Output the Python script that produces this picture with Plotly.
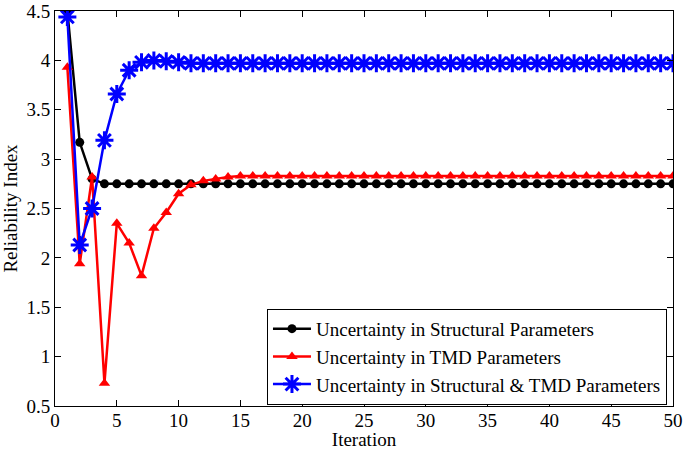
import plotly.graph_objects as go

iterations = list(range(1, 51))
structural = [4.50, 3.17, 2.80] + [2.75] * 47
tmd = [3.93, 1.94, 2.82, 0.73, 2.35, 2.15, 1.82, 2.30, 2.46, 2.65, 2.74, 2.78, 2.80, 2.82] + [2.83] * 36
combined = [4.44, 2.13, 2.50, 3.19, 3.66, 3.90, 3.98, 4.00, 3.99, 3.98] + [3.97] * 40

x_ticks = list(range(0, 51, 5))
y_ticks = [0.5, 1, 1.5, 2, 2.5, 3, 3.5, 4, 4.5]

font = dict(family="Liberation Serif, Times New Roman, serif", size=19, color="black")

fig = go.Figure()
fig.add_trace(go.Scatter(x=iterations, y=structural, mode="lines+markers",
                         name="Uncertainty in Structural Parameters",
                         line=dict(color="black", width=2.5),
                         marker=dict(symbol="circle", size=9, color="black")))
fig.add_trace(go.Scatter(x=iterations, y=tmd, mode="lines+markers",
                         name="Uncertainty in TMD Parameters",
                         line=dict(color="red", width=2.5),
                         marker=dict(symbol="triangle-up", size=10, color="red")))
fig.add_trace(go.Scatter(x=iterations, y=combined, mode="lines+markers",
                         name="Uncertainty in Structural & TMD Parameters",
                         line=dict(color="blue", width=2.5),
                         marker=dict(symbol="asterisk-open", size=15, color="blue",
                                     line=dict(color="blue", width=3))))

axis_common = dict(showline=True, linecolor="black", linewidth=1, mirror="ticks",
                   ticks="inside", ticklen=6, tickcolor="black", showgrid=False,
                   zeroline=False, tickfont=font, automargin=False,
                   ticklabeloverflow="allow")
fig.update_xaxes(range=[0, 50], tickvals=x_ticks, title=dict(text="Iteration", font=font),
                 ticklabelstandoff=-3, **axis_common)
fig.update_yaxes(range=[0.5, 4.5], tickvals=y_ticks, title=dict(text="Reliability Index", font=font),
                 **axis_common)

fig.update_layout(width=685, height=450, margin=dict(l=55, r=12, t=11, b=44),
                  paper_bgcolor="white", plot_bgcolor="white", font=font,
                  legend=dict(x=0.343, y=0.246, xanchor="left", yanchor="top",
                              bgcolor="white", bordercolor="black", borderwidth=1,
                              font=dict(family="Liberation Serif, Times New Roman, serif", size=19),
                              tracegroupgap=0, itemwidth=38),
                  showlegend=True)

fig.write_html("out.html", config={"displayModeBar": False},
               post_script="document.body.style.margin='0';document.body.style.padding='0';")
